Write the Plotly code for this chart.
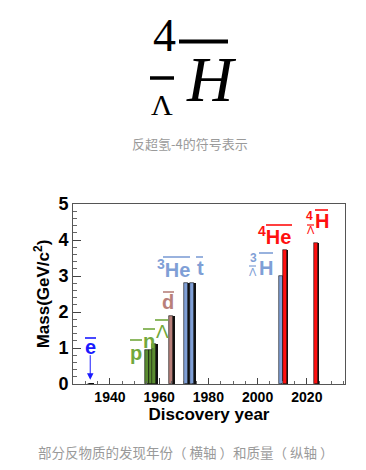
import plotly.graph_objects as go

# ---- data ----
particles = ["e", "p", "n", "Lambda", "d", "He3", "t", "H3L", "He4", "H4L"]
years = [1932, 1955, 1956.5, 1958, 1965, 1971, 1973.5, 2009.6, 2011, 2023.6]
masses = [0.000511, 0.938, 0.940, 1.116, 1.876, 2.809, 2.809, 2.991, 3.727, 3.922]
bar_colors = ["#1a1a1a", "#5a8c30", "#5a8c30", "#5a8c30", "#b8807a", "#7f9fd6",
              "#7f9fd6", "#7f9fd6", "#ff1010", "#ff1010"]
x_ticks = [1940, 1960, 1980, 2000, 2020]
y_ticks = [0, 1, 2, 3, 4, 5]

W, H = 366, 470
L, R, T, B = 73, 21, 204, 86
PW, PH = W - L - R, H - T - B

def px(x):
    return (x - L) / PW

def py(y):
    return (H - B - y) / PH

fig = go.Figure()
# shadow (dark right edge)
fig.add_trace(go.Bar(x=[v + 0.55 for v in years], y=masses, width=1.7,
                     marker=dict(color="#111111", line=dict(width=0)),
                     showlegend=False, hoverinfo="skip"))
fig.add_trace(go.Bar(x=years, y=masses, width=1.6,
                     marker=dict(color=bar_colors, line=dict(color="#111111", width=0.6)),
                     showlegend=False))

SANS = "Liberation Sans, Arial, sans-serif"
SERIF = "Liberation Serif, Times New Roman, serif"

ann = []
def a(text, x, y, size, color, family=SANS, **kw):
    d = dict(text=text, x=px(x), y=py(y), xref="paper", yref="paper",
             showarrow=False, font=dict(size=size, color=color, family=family),
             xanchor="center", yanchor="middle")
    d.update(kw)
    ann.append(d)

shapes = []
def ov(x0, x1, y, color, w=1.6):
    shapes.append(dict(type="line", xref="paper", yref="paper", x0=px(x0), x1=px(x1),
                       y0=py(y), y1=py(y), line=dict(color=color, width=w)))

# title symbol
a("4", 164, 35, 46, "#000000", SERIF)
a("<i>H</i>", 211, 79, 64, "#000000", SERIF)
a("Λ", 162, 104, 30, "#000000", SERIF)
ov(179, 228, 41.5, "#000000", 4)
ov(150, 174, 78, "#000000", 3.5)
a("反超氢-4的符号表示", 190, 143, 13, "#9a9a9a", "Noto Sans CJK SC")
a("部分反物质的发现年份（ 横轴 ）和质量（ 纵轴 ）", 186, 452, 13.5, "#9a9a9a", "Noto Sans CJK SC")

# particle labels
green = "#72a83c"
blue = "#7f9fd6"
pink = "#b8807a"
red = "#ff1010"
a("<b>e</b>", 90, 347, 20, "#1a1aff"); ov(85, 96, 338, "#1a1aff")
a("<b>p</b>", 136, 353, 20, green); ov(130, 142, 340, green)
a("<b>n</b>", 149, 341, 20, green); ov(143, 155, 329, green)
a("Λ", 162, 331, 19, green); ov(155, 168, 320, green)
a("<b>d</b>", 168, 302, 20, pink); ov(163, 174, 292, pink)
a("<b><sup>3</sup>He</b>", 173, 268, 20, blue); ov(163, 190, 257, blue)
a("<b>t</b>", 200, 268, 20, blue); ov(196, 203, 257, blue)
a("<b>3</b>", 253, 258, 12, blue)
a("Λ", 252.5, 272, 11, blue); ov(249, 256, 266, blue, 1.2)
a("<b>H</b>", 266, 268, 20, blue); ov(259, 273, 253, blue)
a("<b><sup>4</sup>He</b>", 274, 235, 20, red); ov(266, 292, 225, red)
a("<b>4</b>", 309, 216, 12, red)
a("Λ", 310.5, 230, 11, red); ov(307, 314, 225, red, 1.2)
a("<b>H</b>", 322, 221, 20, red); ov(315, 328, 210, red)

# arrow for e-bar
ann.append(dict(x=years[0], y=0.12, xref="x", yref="y", ax=0, ay=-26,
                text="", showarrow=True, arrowhead=2, arrowsize=1.3, arrowwidth=1,
                arrowcolor="#1a1aff"))

fig.update_layout(
    width=W, height=H, margin=dict(l=L, r=R, t=T, b=B),
    paper_bgcolor="white", plot_bgcolor="white",
    barmode="overlay", bargap=0,
    annotations=ann, shapes=shapes,
    xaxis=dict(range=[1925, 2035.5], tickvals=x_ticks, ticktext=["<b>%d</b>" % v for v in x_ticks],
               ticks="inside", ticklen=6, tickcolor="#444", showgrid=False, zeroline=False,
               showline=True, linecolor="#555", linewidth=1, mirror=True,
               minor=dict(dtick=5, tick0=1925, ticks="inside", ticklen=3, tickcolor="#666"),
               tickfont=dict(family=SANS, size=14, color="#000"),
               title=dict(text="<b>Discovery year</b>", font=dict(family=SANS, size=17, color="#000"),
                          standoff=0)),
    yaxis=dict(range=[0, 5], tickvals=y_ticks, ticktext=["<b>%d</b>" % v for v in y_ticks],
               ticks="inside", ticklen=8, tickcolor="#444", showgrid=False, zeroline=False,
               showline=True, linecolor="#555", linewidth=1, mirror=True,
               minor=dict(dtick=0.2, ticks="inside", ticklen=4, tickcolor="#666"),
               tickfont=dict(family=SANS, size=18, color="#000"),
               title=dict(text="<b>Mass(GeV/c<sup>2</sup>)</b>", font=dict(family=SANS, size=17, color="#000"),
                          standoff=4)),
)

fig.write_html("out.html")
